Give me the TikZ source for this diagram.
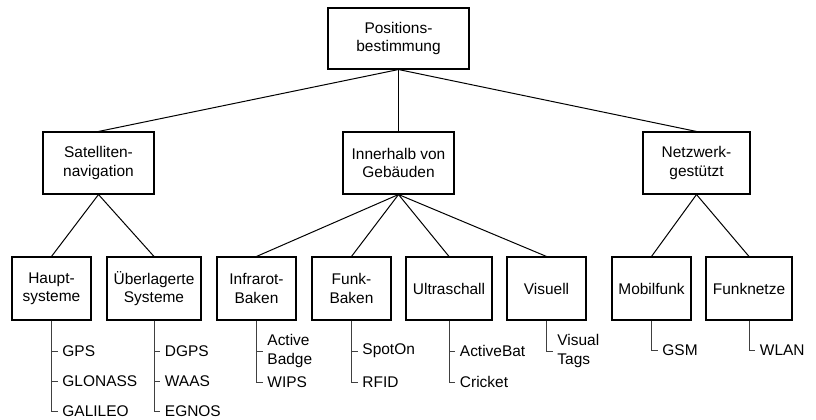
\documentclass[tikz,border=0pt]{standalone}
\usepackage{fontspec}
\setmainfont{Liberation Sans}
\definecolor{twiggray}{RGB}{64,64,64}
\usetikzlibrary{positioning}

\begin{document}
\begin{tikzpicture}[x=0.75pt, y=-0.75pt,
    font=\fontsize{11.6}{13.8}\selectfont,
    box/.style={draw, line width=0.8pt, align=center, inner sep=0pt},
    topbox/.style={box, minimum width=105.75pt, minimum height=45.75pt},
    midbox/.style={box, minimum width=83.25pt, minimum height=46.5pt},
    lowbox/.style={box, minimum width=59.25pt, minimum height=47.25pt},
    leaf/.style={anchor=west, align=left, inner sep=0pt, inner xsep=3.5pt},
    edge/.style={line width=0.75pt},
    twig/.style={twiggray, line width=0.75pt}]
  \useasboundingbox (0,0) rectangle (816,420);

  \node[topbox] (pos) at (398.5,38.5) {Positions-\\bestimmung};

  \node[midbox] (sat) at (98.5,163) {Satelliten-\\navigation};
  \node[midbox] (inn) at (398.5,163) {Innerhalb von\\Geb\"auden};
  \node[midbox, minimum width=80.25pt] (netz) at (696.5,163) {Netzwerk-\\gest\"utzt};

  \node[lowbox] (haupt) at (51.5,288.5) {Haupt-\\systeme};
  \node[lowbox, minimum width=70.5pt] (ueber) at (154,288.5) {\"Uberlagerte\\Systeme};
  \node[lowbox] (infra) at (256.5,288.5) {Infrarot-\\Baken};
  \node[lowbox] (funkb) at (351.5,288.5) {Funk-\\Baken};
  \node[lowbox, minimum width=64.5pt] (ultra) at (449,288.5) {Ultraschall};
  \node[lowbox] (visu) at (546.5,288.5) {Visuell};
  \node[lowbox] (mobil) at (651.5,288.5) {Mobilfunk};
  \node[lowbox, minimum width=64.5pt] (funkn) at (749,288.5) {Funknetze};

  \foreach \child in {sat, inn, netz}
    \draw[edge] (pos.south) -- (\child.north);
  \foreach \child in {haupt, ueber}
    \draw[edge] (sat.south) -- (\child.north);
  \foreach \child in {infra, funkb, ultra, visu}
    \draw[edge] (inn.south) -- (\child.north);
  \foreach \child in {mobil, funkn}
    \draw[edge] (netz.south) -- (\child.north);

  \node[leaf] (gps) at (57.5,351) {GPS};
  \node[leaf] (glonass) at (57.5,381) {GLONASS};
  \node[leaf] (galileo) at (57.5,411) {GALILEO};
  \node[leaf] (dgps) at (160,351) {DGPS};
  \node[leaf] (waas) at (160,381) {WAAS};
  \node[leaf] (egnos) at (160,411) {EGNOS};
  \node[leaf] (badge) at (262.5,351) {Active\\Badge};
  \node[leaf] (wips) at (262.5,382) {WIPS};
  \node[leaf] (spoton) at (357.5,351) {SpotOn};
  \node[leaf] (rfid) at (357.5,382) {RFID};
  \node[leaf] (activebat) at (455,351) {ActiveBat};
  \node[leaf] (cricket) at (455,382) {Cricket};
  \node[leaf] (vtags) at (552.5,351) {Visual\\Tags};
  \node[leaf] (gsm) at (657.5,350) {GSM};
  \node[leaf] (wlan) at (755,350) {WLAN};

  \foreach \parent/\kid in {haupt/gps, haupt/glonass, haupt/galileo,
      ueber/dgps, ueber/waas, ueber/egnos, infra/badge, infra/wips,
      funkb/spoton, funkb/rfid, ultra/activebat, ultra/cricket,
      visu/vtags, mobil/gsm, funkn/wlan}
    \draw[twig] (\parent.south) |- (\kid.west);
\end{tikzpicture}
\end{document}
